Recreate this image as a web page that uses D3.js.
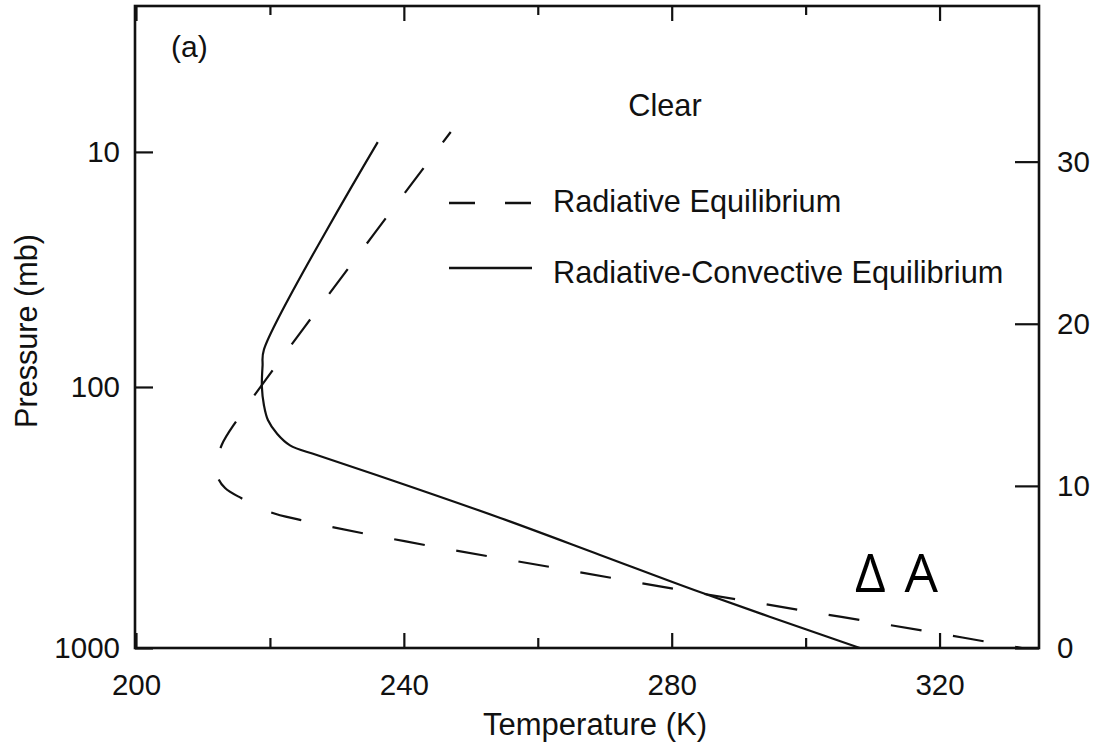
<!DOCTYPE html>
<html>
<head>
<meta charset="utf-8">
<script src="https://cdn.jsdelivr.net/npm/d3@7"></script>
<style>
  html, body { margin: 0; padding: 0; background: #fff; }
  svg { display: block; }
  text { font-family: "Liberation Sans", Arial, Helvetica, sans-serif; fill: #111; }
</style>
</head>
<body>
<svg id="chart" width="1096" height="749"></svg>
<script>
// ---- data ----
// Radiative equilibrium (dashed): temperature (K) vs height (km)
const reTemp   = [332.3, 317.8, 299.2, 280.5, 261.8, 243.2, 229.3, 224.5, 220.0, 215.7, 213.3, 212.2, 212.1, 212.8, 215.2, 226.4, 247.0];
const reHeight = [0.0,   1.05,  2.34,  3.64,  5.0,   6.35,  7.46,  7.9,   8.39,  9.25,  9.87,  10.55, 11.29, 12.52, 14.13, 20.48, 31.83];
// Radiative-convective equilibrium (solid)
const rceTemp   = [308.1, 284.2, 269.3, 254.4, 239.4, 227.0, 223.0, 221.1, 219.7, 219.1, 218.8, 218.9, 219.1, 236.1];
const rceHeight = [0.0,   3.45,  5.74,  8.02,  10.18, 11.9,  12.5,  13.2,  14.06, 14.99, 16.1,  17.4,  18.4,  31.2];

const tempTicksMajor = [200, 240, 280, 320];
const tempTicksMinor = [220, 260, 300];
const heightTicks = [0, 10, 20, 30];
const pressureLabels  = ["1000", "100", "10"];
const pressureHeights = [0, 16.1, 30.6];   // height (km) at which each pressure tick sits

const seriesNames = ["Radiative Equilibrium", "Radiative-Convective Equilibrium"];
const panelLabel = "(a)";
const caseLabel = "Clear";
const annotation = "\u0394 A";

// ---- layout ----
const svg = d3.select("#chart");
const pL = 135, pR = 1039, pT = 6, pB = 648;

const x = d3.scaleLinear().domain([200, 335]).range([136, 1040]);
const y = d3.scaleLinear().domain([0, 39.6]).range([pB, pT]);

const g = svg.append("g");

// frame
g.append("rect")
  .attr("x", pL).attr("y", pT)
  .attr("width", pR - pL).attr("height", pB - pT)
  .attr("fill", "none").attr("stroke", "#111").attr("stroke-width", 2.6);

function styleAxis(sel, fontSize) {
  sel.select(".domain").remove();
  sel.selectAll(".tick line").attr("stroke", "#111").attr("stroke-width", 2.2);
  sel.selectAll(".tick text")
    .attr("fill", "#111")
    .style("font-family", '"Liberation Sans", Arial, sans-serif')
    .style("font-size", fontSize + "px");
}

// bottom axis
g.append("g").attr("transform", `translate(0,${pB})`)
  .call(d3.axisBottom(x).tickValues(tempTicksMajor).tickSize(-15).tickPadding(26).tickFormat(d3.format("d")))
  .call(s => styleAxis(s, 29.5));
g.append("g").attr("transform", `translate(0,${pB})`)
  .call(d3.axisBottom(x).tickValues(tempTicksMinor).tickSize(-10).tickFormat(""))
  .call(s => styleAxis(s, 29.5));
// top axis (ticks only)
g.append("g").attr("transform", `translate(0,${pT})`)
  .call(d3.axisTop(x).tickValues(tempTicksMajor).tickSize(-15).tickFormat(""))
  .call(s => styleAxis(s, 29.5));
g.append("g").attr("transform", `translate(0,${pT})`)
  .call(d3.axisTop(x).tickValues(tempTicksMinor).tickSize(-9).tickFormat(""))
  .call(s => styleAxis(s, 29.5));

// left axis (pressure)
g.append("g").attr("transform", `translate(${pL},0)`)
  .call(d3.axisLeft(y).tickValues(pressureHeights).tickSize(-18).tickPadding(15)
    .tickFormat((d, i) => pressureLabels[i]))
  .call(s => styleAxis(s, 29.5));

// right axis (height)
g.append("g").attr("transform", `translate(${pR},0)`)
  .call(d3.axisRight(y).tickValues(heightTicks).tickSize(-24).tickPadding(18).tickFormat(d3.format("d")))
  .call(s => styleAxis(s, 29.5));

// lines
const line = d3.line()
  .x(d => x(d[0])).y(d => y(d[1]))
  .curve(d3.curveCatmullRom.alpha(0.5));

const rePts = reTemp.map((t, i) => [t, reHeight[i]]);
const rcePts = rceTemp.map((t, i) => [t, rceHeight[i]]);

const rePath = g.append("path").datum(rePts)
  .attr("d", line).attr("fill", "none")
  .attr("stroke", "#111").attr("stroke-width", 2.2)
  .attr("stroke-dasharray", "31,32")
  .attr("stroke-dashoffset", 24);

g.append("path").datum(rcePts)
  .attr("d", line).attr("fill", "none")
  .attr("stroke", "#111").attr("stroke-width", 2.2);

// legend
const legend = g.append("g");
legend.append("line")
  .attr("x1", 449).attr("x2", 533).attr("y1", 203).attr("y2", 203)
  .attr("stroke", "#111").attr("stroke-width", 2.6).attr("stroke-dasharray", "26,30");
legend.append("text").attr("x", 553).attr("y", 212)
  .style("font-size", "30.7px").text(seriesNames[0]);
legend.append("line")
  .attr("x1", 449).attr("x2", 532).attr("y1", 268).attr("y2", 268)
  .attr("stroke", "#111").attr("stroke-width", 2.6);
legend.append("text").attr("x", 553).attr("y", 283)
  .style("font-size", "30.7px").text(seriesNames[1]);

// labels
g.append("text").attr("x", 665).attr("y", 116).attr("text-anchor", "middle")
  .style("font-size", "30.7px").text(caseLabel);
g.append("text").attr("x", 171).attr("y", 57)
  .style("font-size", "30px").text(panelLabel);

g.append("text").attr("x", 595).attr("y", 735).attr("text-anchor", "middle")
  .style("font-size", "31px").text("Temperature (K)");
g.append("text")
  .attr("transform", "translate(37,331) rotate(-90)")
  .attr("text-anchor", "middle")
  .style("font-size", "30.6px").text("Pressure (mb)");

g.append("text").attr("x", 855).attr("y", 592)
  .style("font-family", '"Open Sans", Lato, sans-serif')
  .style("font-size", "53px").style("word-spacing", "5px")
  .style("fill", "#000").text(annotation);
</script>
</body>
</html>
